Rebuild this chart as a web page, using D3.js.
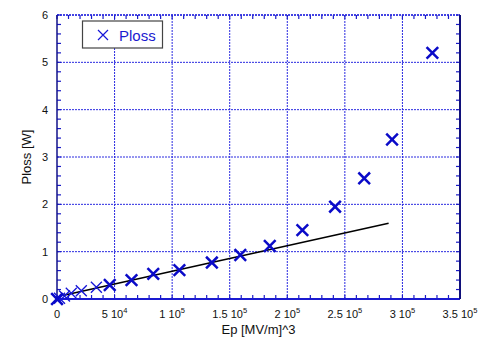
<!DOCTYPE html>
<html>
<head>
<meta charset="utf-8">
<script src="https://cdn.jsdelivr.net/npm/d3@7"></script>
<style>
  body { margin: 0; background: #fff; }
  text { font-family: "Liberation Sans", Arial, sans-serif; }
</style>
</head>
<body>
<svg id="chart" width="479" height="340"></svg>
<script>
// data
const epBold = [0, 45800, 64700, 83600, 106300, 134500, 159200, 184800, 213100, 241500, 266800, 291000, 326000];
const plossBold = [0, 0.295, 0.40, 0.53, 0.61, 0.77, 0.93, 1.12, 1.456, 1.95, 2.55, 3.37, 5.2];
const epThin = [2200, 6500, 12400, 21100, 34200];
const plossThin = [0.015, 0.063, 0.12, 0.175, 0.247];
const fitEp = [5000, 288000];
const fitPloss = [0.075, 1.6];
const xMajor = [0, 50000, 100000, 150000, 200000, 250000, 300000, 350000];
const xLabels = [["0", ""], ["5 10", "4"], ["1 10", "5"], ["1.5 10", "5"], ["2 10", "5"], ["2.5 10", "5"], ["3 10", "5"], ["3.5 10", "5"]];
const yMajor = [0, 1, 2, 3, 4, 5, 6];

const svg = d3.select("#chart"),
      margin = {top: 15, right: 19, bottom: 41, left: 57},
      width = +svg.attr("width") - margin.left - margin.right,
      height = +svg.attr("height") - margin.top - margin.bottom;

const g = svg.append("g").attr("transform", `translate(${margin.left},${margin.top})`);

const x = d3.scaleLinear().domain([0, 350000]).range([0, width]);
const y = d3.scaleLinear().domain([0, 6]).range([height, 0]);

const gridCol = "#2a2ae0";

// grid
g.selectAll("line.gx").data(xMajor.slice(1, -1)).enter().append("line")
  .attr("x1", d => x(d)).attr("x2", d => x(d)).attr("y1", 0).attr("y2", height)
  .attr("stroke", gridCol).attr("stroke-width", 1).attr("stroke-dasharray", "2,1");
g.selectAll("line.gy").data(yMajor.slice(1)).enter().append("line")
  .attr("y1", d => y(d)).attr("y2", d => y(d)).attr("x1", 0).attr("x2", width)
  .attr("stroke", gridCol).attr("stroke-width", 1).attr("stroke-dasharray", "2,1");

// minor ticks (inward)
const xMinor = d3.range(0, 350001, 10000);
const yMinor = d3.range(0, 6.01, 0.2);
g.selectAll("line.tb").data(xMinor).enter().append("line")
  .attr("x1", d => x(d)).attr("x2", d => x(d)).attr("y1", height).attr("y2", height - 4)
  .attr("stroke", "#1a1ac8").attr("stroke-width", 1.2);
g.selectAll("line.tt").data(xMinor).enter().append("line")
  .attr("x1", d => x(d)).attr("x2", d => x(d)).attr("y1", 0).attr("y2", 4)
  .attr("stroke", "#1a1ac8").attr("stroke-width", 1.2);
g.selectAll("line.tl").data(yMinor).enter().append("line")
  .attr("y1", d => y(d)).attr("y2", d => y(d)).attr("x1", 0).attr("x2", 4)
  .attr("stroke", "#1a1ac8").attr("stroke-width", 1.2);
g.selectAll("line.tr").data(yMinor).enter().append("line")
  .attr("y1", d => y(d)).attr("y2", d => y(d)).attr("x1", width).attr("x2", width - 4)
  .attr("stroke", "#1a1ac8").attr("stroke-width", 1.2);

// frame
g.append("line").attr("x1", 0).attr("x2", width).attr("y1", 0).attr("y2", 0)
  .attr("stroke", gridCol).attr("stroke-width", 1.5).attr("stroke-dasharray", "2,1");
g.append("line").attr("x1", 0).attr("x2", width).attr("y1", height).attr("y2", height)
  .attr("stroke", "#1a1ad0").attr("stroke-width", 2);
g.append("line").attr("x1", 0).attr("x2", 0).attr("y1", 0).attr("y2", height)
  .attr("stroke", "#10108a").attr("stroke-width", 1.5);
g.append("line").attr("x1", width).attr("x2", width).attr("y1", 0).attr("y2", height)
  .attr("stroke", "#10107a").attr("stroke-width", 2);

// tick labels
const xl = g.selectAll("text.xl").data(xMajor).enter().append("text")
  .attr("x", d => x(d)).attr("y", height + 19)
  .attr("text-anchor", "middle").style("font-size", "11px").attr("fill", "#111");
xl.append("tspan").text((d, i) => xLabels[i][0]);
xl.append("tspan").attr("dy", -5).style("font-size", "7.5px").text((d, i) => xLabels[i][1]);

g.selectAll("text.yl").data(yMajor).enter().append("text")
  .attr("x", -9).attr("y", d => y(d) + 4)
  .attr("text-anchor", "end").style("font-size", "11px").attr("fill", "#111")
  .text(d => d);

// axis titles
svg.append("text").attr("x", margin.left + width / 2).attr("y", 334)
  .attr("text-anchor", "middle").style("font-size", "13px").attr("fill", "#111")
  .text("Ep [MV/m]^3");
svg.append("text").attr("transform", `translate(31,${margin.top + height / 2}) rotate(-90)`)
  .attr("text-anchor", "middle").style("font-size", "13px").attr("fill", "#111")
  .text("Ploss [W]");

// fit line
g.append("line")
  .attr("x1", x(fitEp[0])).attr("y1", y(fitPloss[0]))
  .attr("x2", x(fitEp[1])).attr("y2", y(fitPloss[1]))
  .attr("stroke", "#000").attr("stroke-width", 1.6);

// markers
const cross = (sel, s) => sel.attr("d", `M${-s},${-s}L${s},${s}M${-s},${s}L${s},${-s}`);
const bold = epBold.map((d, i) => ({ep: d, p: plossBold[i]}));
const thin = epThin.map((d, i) => ({ep: d, p: plossThin[i]}));
g.selectAll("path.thin").data(thin).enter().append("path")
  .attr("transform", d => `translate(${x(d.ep)},${y(d.p)})`)
  .call(cross, 5.5).attr("stroke", "#1515d8").attr("stroke-width", 1.3).attr("fill", "none");
g.selectAll("path.bold").data(bold).enter().append("path")
  .attr("transform", d => `translate(${x(d.ep)},${y(d.p)})`)
  .call(cross, 5.8).attr("stroke", "#0a0ac8").attr("stroke-width", 2.5).attr("fill", "none");

// legend
const lg = svg.append("g");
lg.append("rect").attr("x", 82.5).attr("y", 21).attr("width", 80).attr("height", 27)
  .attr("fill", "#fff").attr("stroke", "#444").attr("stroke-width", 1.2);
lg.append("path").attr("transform", "translate(103,35)").call(cross, 5)
  .attr("stroke", "#1515d8").attr("stroke-width", 1.2).attr("fill", "none");
lg.append("text").attr("x", 119).attr("y", 40.5).style("font-size", "15px")
  .attr("fill", "#1a1ad0").text("Ploss");
</script>
</body>
</html>
